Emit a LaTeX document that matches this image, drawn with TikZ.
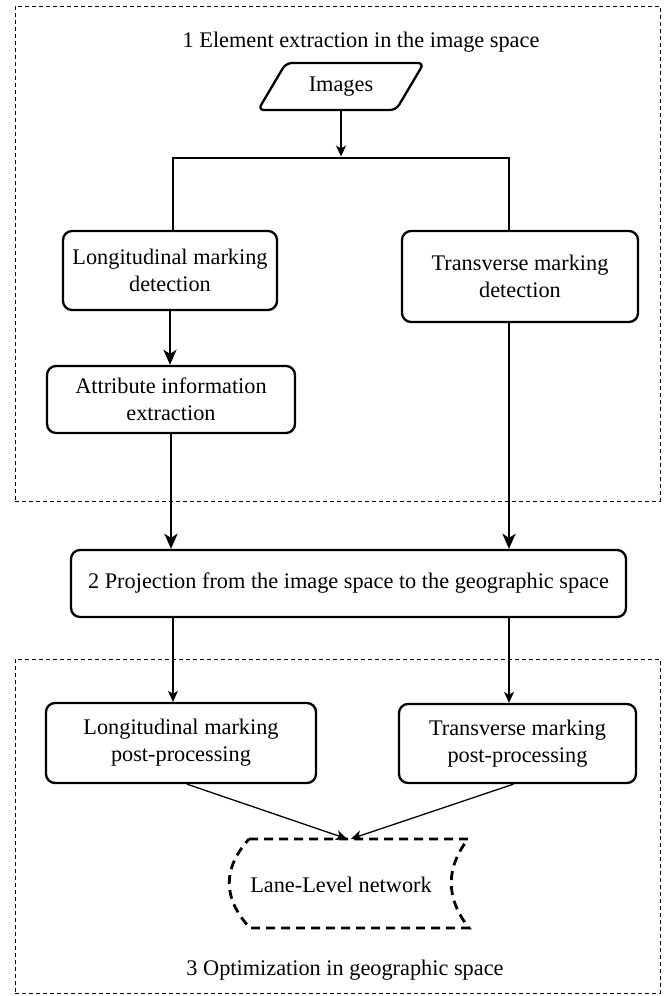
\documentclass[tikz,border=0pt]{standalone}
\usepackage{fontspec}
\setmainfont{Liberation Serif}
\newfontfamily\lserif{Liberation Serif}
\usetikzlibrary{shapes.geometric,arrows.meta,calc}
\begin{document}
\begin{tikzpicture}[x=1pt,y=-1pt,
  every node/.style={font=\lserif\fontsize{22.3}{26.7}\selectfont, inner sep=0pt, align=center},
  proc/.style={draw, line width=2.3pt, rounded corners=9pt},
  frame/.style={draw, line width=1pt, dash pattern=on 4pt off 3pt},
  thickarrow/.style={line width=2.8pt, -{Stealth[length=15pt,width=13pt,inset=4pt]}},
  thinarrow/.style={line width=1.3pt, -{Stealth[length=11pt,width=10pt,inset=3pt]}},
  thickline/.style={line width=2.8pt},
  lanestyle/.style={line width=2.8pt, dash pattern=on 9pt off 6pt}]
\useasboundingbox (0,0) rectangle (666,996);
% frames
\node[frame, minimum width=645pt, minimum height=495pt] (sec1) at (337.5,253.5) {};
\node[frame, minimum width=645pt, minimum height=334pt] (sec3) at (337.5,826) {};
\node[anchor=base] (t1) at (361,47) {1 Element extraction in the image space};
\node[anchor=base] (t3) at (345,975) {3 Optimization in geographic space};
% nodes
\node[draw, line width=2.3pt, rounded corners=6pt, trapezium, trapezium left angle=50, trapezium right angle=130,
      trapezium stretches=true, minimum width=166pt, minimum height=47pt] (img) at (341,86.5) {Images};
\node[proc, minimum width=214pt, minimum height=79pt] (lon) at (170,270.5) {Longitudinal marking\\detection};
\node[proc, minimum width=236pt, minimum height=91pt] (trans) at (520,276.5) {Transverse marking\\detection};
\node[proc, minimum width=248pt, minimum height=67pt] (attr) at (171,399.5) {Attribute information\\extraction};
\node[proc, minimum width=555pt, minimum height=67pt] (proj) at (348.5,583.5) {2 Projection from the image space to the geographic space};
\node[proc, minimum width=270pt, minimum height=80pt] (lpost) at (181,743) {Longitudinal marking\\post-processing};
\node[proc, minimum width=237pt, minimum height=79pt] (tpost) at (517.5,743.5) {Transverse marking\\post-processing};
\node[minimum width=240pt, minimum height=89pt] (lane) at (349,883.5) {};
\draw[lanestyle] (249,839) -- (468,839)
  .. controls (445.33,868.67) and (445.67,898.33) .. (469,928)
  -- (250,928)
  .. controls (222.67,898.33) and (222.33,868.67) .. cycle;
\node[anchor=base] (lanetxt) at (341,892) {Lane-Level network};
% junction
\coordinate (jL) at (173,158);
\coordinate (jR) at (509,158);
\coordinate (imgb) at (img.center |- img.south);
\draw[thinarrow] (imgb) -- ($(imgb |- jL)+(0,-1.5)$);
\draw[thickline] (jL |- lon.north) -- (jL) -- (jR) -- (jR |- trans.north);
% arrows
\draw[thickarrow] (lon.south) -- (lon.south |- attr.north);
\draw[thickarrow] (attr.south) -- (attr.south |- proj.north);
\draw[thickarrow] (jR |- trans.south) -- (jR |- proj.north);
\draw[thinarrow] (jL |- proj.south) -- (jL |- lpost.north);
\draw[thinarrow] (jR |- proj.south) -- (jR |- tpost.north);
\draw[thinarrow] ($(lpost.south)+(6,0)$) -- ($(lane.north)+(-2,0)$);
\draw[thinarrow] ($(tpost.south)+(-4,0)$) -- ($(lane.north)+(2,0)$);
\end{tikzpicture}
\end{document}
